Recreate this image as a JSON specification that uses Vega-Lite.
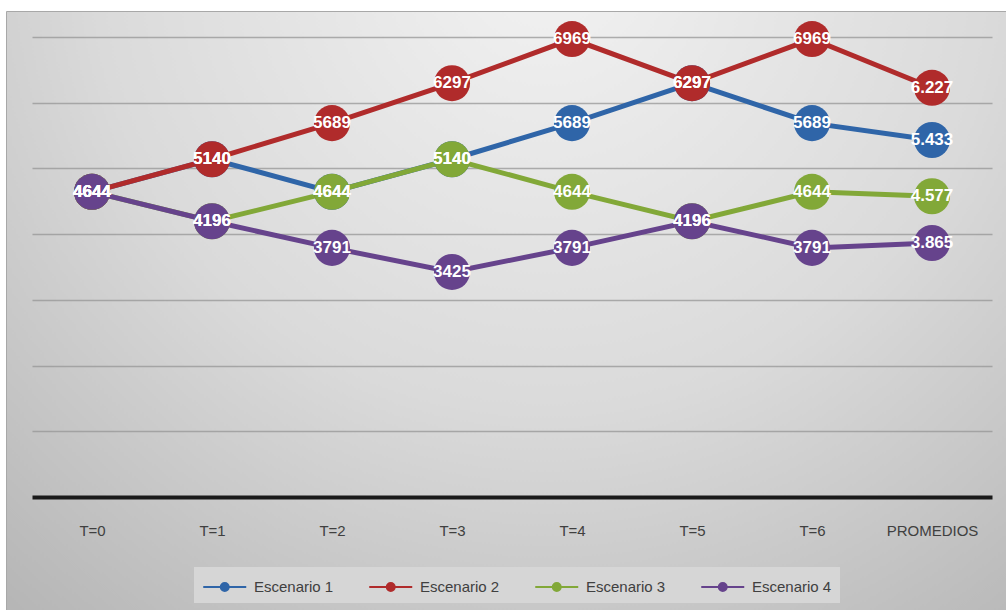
{
  "$schema": "https://vega.github.io/schema/vega-lite/v6.json",
  "width": 1000,
  "height": 599,
  "autosize": {"type": "none"},
  "padding": {"left": 6, "top": 11, "right": 0, "bottom": 0},
  "background": "white",
  "config": {
    "font": "Liberation Sans",
    "view": {
      "stroke": "#a8a8a8",
      "strokeWidth": 1,
      "fill": {
        "gradient": "radial",
        "x1": 0.54, "y1": 0.15, "r1": 0,
        "x2": 0.54, "y2": 0.15, "r2": 0.9,
        "stops": [
          {"offset": 0, "color": "#f2f2f2"},
          {"offset": 0.5, "color": "#dadada"},
          {"offset": 1, "color": "#b0b0b0"}
        ]
      }
    }
  },
  "data": {
    "values": [
      {"t": "T=0", "s": "Escenario 1", "v": 4644, "label": "4644"},
      {"t": "T=1", "s": "Escenario 1", "v": 5140, "label": "5140"},
      {"t": "T=2", "s": "Escenario 1", "v": 4644, "label": "4644"},
      {"t": "T=3", "s": "Escenario 1", "v": 5140, "label": "5140"},
      {"t": "T=4", "s": "Escenario 1", "v": 5689, "label": "5689"},
      {"t": "T=5", "s": "Escenario 1", "v": 6297, "label": "6297"},
      {"t": "T=6", "s": "Escenario 1", "v": 5689, "label": "5689"},
      {"t": "PROMEDIOS", "s": "Escenario 1", "v": 5433, "label": "5.433"},
      {"t": "T=0", "s": "Escenario 2", "v": 4644, "label": "4644"},
      {"t": "T=1", "s": "Escenario 2", "v": 5140, "label": "5140"},
      {"t": "T=2", "s": "Escenario 2", "v": 5689, "label": "5689"},
      {"t": "T=3", "s": "Escenario 2", "v": 6297, "label": "6297"},
      {"t": "T=4", "s": "Escenario 2", "v": 6969, "label": "6969"},
      {"t": "T=5", "s": "Escenario 2", "v": 6297, "label": "6297"},
      {"t": "T=6", "s": "Escenario 2", "v": 6969, "label": "6969"},
      {"t": "PROMEDIOS", "s": "Escenario 2", "v": 6227, "label": "6.227"},
      {"t": "T=0", "s": "Escenario 3", "v": 4644, "label": "4644"},
      {"t": "T=1", "s": "Escenario 3", "v": 4196, "label": "4196"},
      {"t": "T=2", "s": "Escenario 3", "v": 4644, "label": "4644"},
      {"t": "T=3", "s": "Escenario 3", "v": 5140, "label": "5140"},
      {"t": "T=4", "s": "Escenario 3", "v": 4644, "label": "4644"},
      {"t": "T=5", "s": "Escenario 3", "v": 4196, "label": "4196"},
      {"t": "T=6", "s": "Escenario 3", "v": 4644, "label": "4644"},
      {"t": "PROMEDIOS", "s": "Escenario 3", "v": 4577, "label": "4.577"},
      {"t": "T=0", "s": "Escenario 4", "v": 4644, "label": "4644"},
      {"t": "T=1", "s": "Escenario 4", "v": 4196, "label": "4196"},
      {"t": "T=2", "s": "Escenario 4", "v": 3791, "label": "3791"},
      {"t": "T=3", "s": "Escenario 4", "v": 3425, "label": "3425"},
      {"t": "T=4", "s": "Escenario 4", "v": 3791, "label": "3791"},
      {"t": "T=5", "s": "Escenario 4", "v": 4196, "label": "4196"},
      {"t": "T=6", "s": "Escenario 4", "v": 3791, "label": "3791"},
      {"t": "PROMEDIOS", "s": "Escenario 4", "v": 3865, "label": "3.865"}
    ]
  },
  "encoding": {
    "x": {
      "field": "t",
      "type": "nominal",
      "sort": ["T=0", "T=1", "T=2", "T=3", "T=4", "T=5", "T=6", "PROMEDIOS"],
      "scale": {"type": "point", "range": [26, 986], "padding": 0.5},
      "axis": {
        "title": null,
        "domain": false,
        "ticks": false,
        "tickSize": 0,
        "grid": false,
        "labelPadding": 0,
        "offset": -87,
        "labelAngle": 0,
        "labelBaseline": "top",
        "labelFontSize": 15,
        "labelColor": "#404040"
      }
    },
    "y": {
      "field": "v",
      "type": "quantitative",
      "scale": {"domain": [0, 7000], "range": [486, 26], "nice": false, "zero": true},
      "axis": {
        "title": null,
        "labels": false,
        "ticks": false,
        "domain": false,
        "grid": true,
        "values": [0, 1000, 2000, 3000, 4000, 5000, 6000, 7000],
        "gridColor": {"condition": {"test": "datum.value === 0", "value": "#1a1a1a"}, "value": "#969696"},
        "gridWidth": {"condition": {"test": "datum.value === 0", "value": 4}, "value": 1.4},
        "gridOpacity": {"condition": {"test": "datum.value === 0", "value": 1}, "value": 0.75}
      }
    },
    "color": {
      "field": "s",
      "type": "nominal",
      "scale": {
        "domain": ["Escenario 1", "Escenario 2", "Escenario 3", "Escenario 4"],
        "range": ["#2f65a8", "#b02b2b", "#82a838", "#66438c"]
      },
      "legend": {
        "orient": "none",
        "legendX": 188,
        "legendY": 556,
        "direction": "horizontal",
        "columns": 4,
        "title": null,
        "symbolType": "M-1,0L3,0M1.37,0A0.37,0.37,0,1,1,0.63,0A0.37,0.37,0,1,1,1.37,0Z",
        "symbolSize": 462,
        "symbolStrokeWidth": 2,
        "labelOffset": 28,
        "labelFontSize": 15,
        "labelColor": "#404040",
        "columnPadding": 31,
        "padding": 8,
        "fillColor": "#d6d6d6",
        "encode": {
          "symbols": {
            "update": {
              "fill": {"scale": "color", "field": "value"},
              "stroke": {"scale": "color", "field": "value"},
              "opacity": {"value": 1}
            }
          }
        }
      }
    }
  },
  "layer": [
    {"mark": {"type": "line", "strokeWidth": 5}},
    {"mark": {"type": "point", "filled": true, "size": 1300, "opacity": 1}},
    {
      "mark": {"type": "text", "fontWeight": "bold", "fontSize": 17, "baseline": "middle", "align": "center"},
      "encoding": {"text": {"field": "label"}, "color": {"value": "white"}}
    }
  ]
}
